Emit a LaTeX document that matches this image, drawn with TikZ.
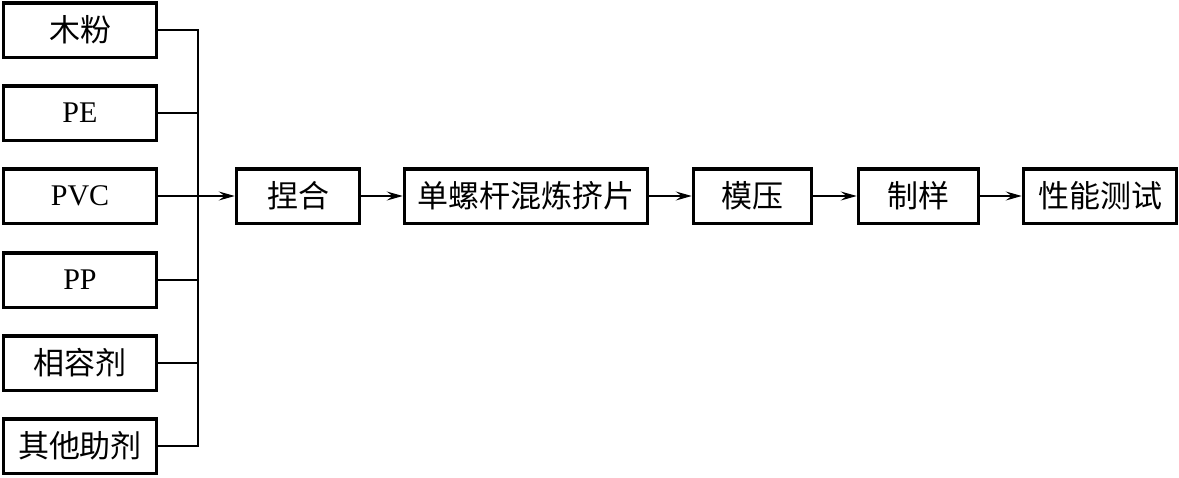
\documentclass[tikz,border=0pt]{standalone}
\usepackage{fontspec}
\setmainfont{Liberation Serif}
\newfontfamily\cjk{Noto Sans CJK SC}
\usetikzlibrary{arrows.meta}
\begin{document}
\begin{tikzpicture}[x=1pt,y=-1pt,
  box/.style={draw,line width=3.5pt,minimum height=54.5pt,inner sep=0pt,anchor=center,font=\fontsize{30}{32}\selectfont},
  cj/.style={font=\fontsize{31}{33}\selectfont\cjk},
  conn/.style={line width=1.4pt},
  arr/.style={conn,-{Stealth[length=16pt,width=9pt,inset=6pt]}}]
\useasboundingbox (0,0) rectangle (1179,477);
\node[box,cj,minimum width=153pt] (a1) at (80,30) {木粉};
\node[box,minimum width=153pt] (a2) at (80,113) {PE};
\node[box,minimum width=153pt] (a3) at (80,196) {PVC};
\node[box,minimum width=153pt] (a4) at (80,280) {PP};
\node[box,cj,minimum width=153pt] (a5) at (80,363) {相容剂};
\node[box,cj,minimum width=153pt] (a6) at (80,446) {其他助剂};
\node[box,cj,minimum width=123pt] (b1) at (298,196) {捏合};
\node[box,cj,minimum width=243pt] (b2) at (526,196) {单螺杆混炼挤片};
\node[box,cj,minimum width=118pt] (b3) at (752.5,196) {模压};
\node[box,cj,minimum width=120pt] (b4) at (918.5,196) {制样};
\node[box,cj,minimum width=153pt] (b5) at (1100,196) {性能测试};
\coordinate (top) at (198,30);
\coordinate (bot) at (198,446);
\draw[conn] (a1.east) -- (top) -- (bot) -- (a6.east);
\draw[conn] (a2.east) -- (a2.east -| top);
\draw[conn] (a4.east) -- (a4.east -| top);
\draw[conn] (a5.east) -- (a5.east -| top);
\draw[arr] (a3.east) -- (b1.west);
\draw[arr] (b1.east) -- (b2.west);
\draw[arr] (b2.east) -- (b3.west);
\draw[arr] (b3.east) -- (b4.west);
\draw[arr] (b4.east) -- (b5.west);
\end{tikzpicture}
\end{document}
